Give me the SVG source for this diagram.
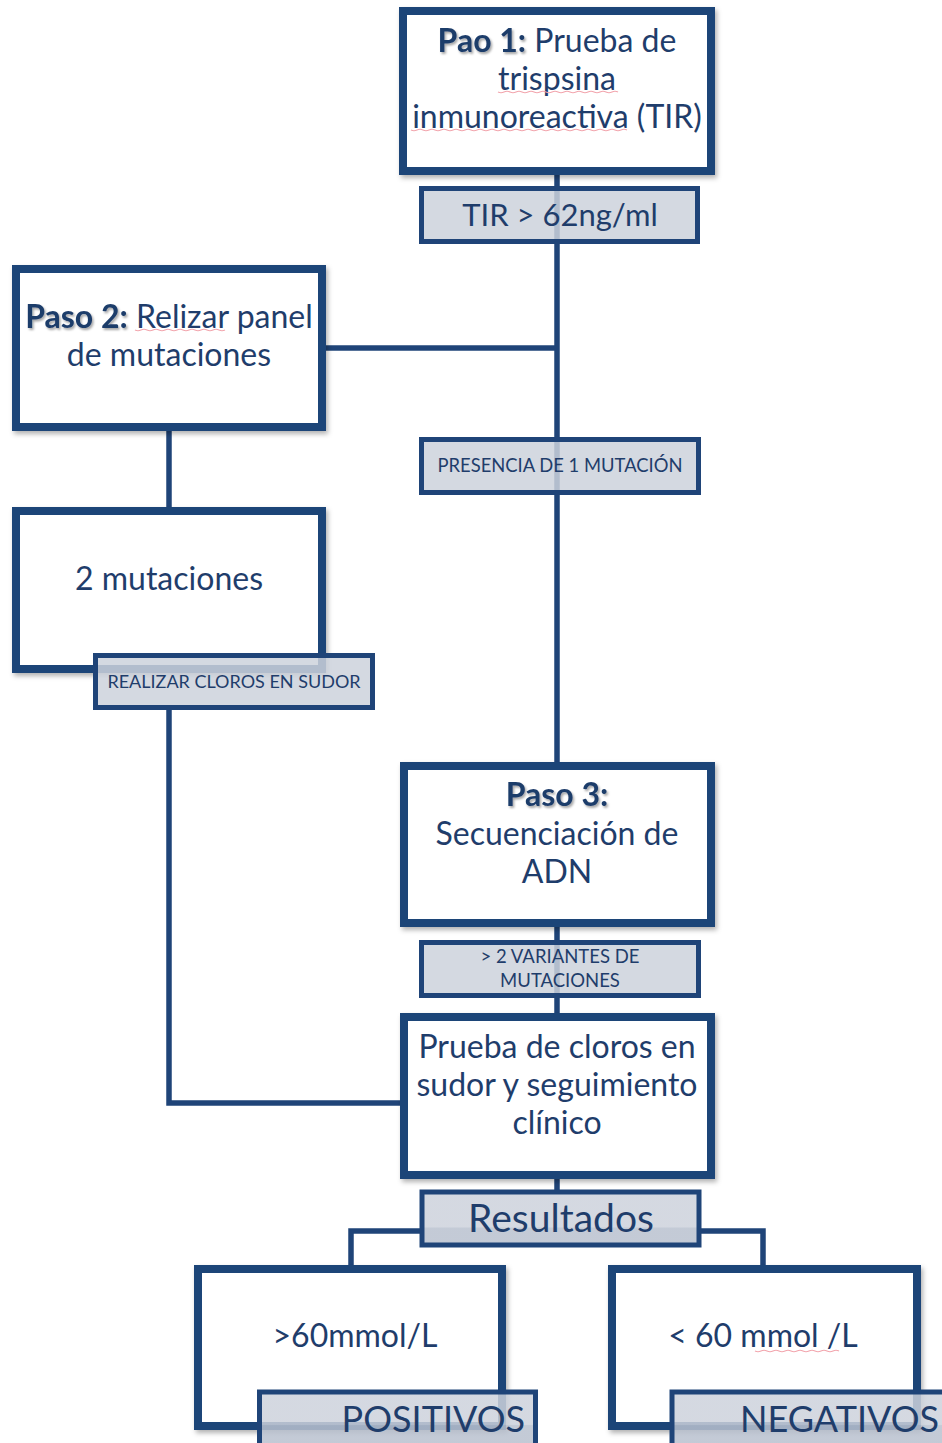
<svg xmlns="http://www.w3.org/2000/svg" width="942" height="1443" viewBox="0 0 942 1443">
<style>
.box{fill:#fff;stroke:#1f4478;stroke-width:8;filter:url(#sh)}
.lbl{fill:#cdd2dc;fill-opacity:0.85;stroke:#1f4478;stroke-width:5}
.lblA{fill:url(#lgA);fill-opacity:0.85;stroke:#1f4478;stroke-width:5}
.lblB{fill:url(#lgB);fill-opacity:0.85;stroke:#1f4478;stroke-width:5}
.ln{fill:none;stroke:#1f4478;stroke-width:5.5}
text{font-family:Lato,"Open Sans","Liberation Sans",sans-serif;fill:#1f3d6b;text-anchor:middle}
.t32{font-size:32px}
.t31{font-size:31px}
.t18{font-size:18px}
.t185{font-size:18.5px}
.t39{font-size:39px}
.t36{font-size:36px}
.b{font-weight:bold;filter:url(#ts)}
.sq{fill:none;stroke:#f2a6ae;stroke-width:1.2}
</style>
<defs>
<filter id="sh" x="-10%" y="-10%" width="125%" height="125%"><feDropShadow dx="2" dy="3" stdDeviation="2.5" flood-color="#000" flood-opacity="0.3"/></filter>
<filter id="ts" x="-10%" y="-20%" width="125%" height="150%"><feDropShadow dx="1.5" dy="2" stdDeviation="1" flood-color="#000" flood-opacity="0.35"/></filter>
<linearGradient id="lgA" x1="0" y1="0" x2="0" y2="1"><stop offset="0" stop-color="#cdd2dc"/><stop offset="0.66" stop-color="#cdd2dc"/><stop offset="0.68" stop-color="#b9c1cf"/><stop offset="1" stop-color="#b9c1cf"/></linearGradient>
<linearGradient id="lgB" x1="0" y1="0" x2="0" y2="1"><stop offset="0" stop-color="#cdd2dc"/><stop offset="0.54" stop-color="#cdd2dc"/><stop offset="0.56" stop-color="#b9c1cf"/><stop offset="1" stop-color="#b9c1cf"/></linearGradient>
</defs>
<g id="connectors">
<line class="ln" x1="557" y1="171" x2="557" y2="766"/>
<line class="ln" x1="322" y1="348" x2="557" y2="348"/>
<line class="ln" x1="169" y1="427" x2="169" y2="511"/>
<polyline class="ln" points="169,708 169,1103 404,1103"/>
<line class="ln" x1="557" y1="923" x2="557" y2="1017"/>
<line class="ln" x1="557" y1="1175" x2="557" y2="1192"/>
<polyline class="ln" points="422,1231 351,1231 351,1269"/>
<polyline class="ln" points="699,1231 763,1231 763,1269"/>
</g>
<g id="n1">
<rect class="box" x="403" y="11" width="308" height="160"/>
<text class="t32" x="557" y="52"><tspan class="b">Pao 1:</tspan> Prueba de</text>
<text class="t32" x="557" y="90">trispsina</text>
<text class="t32" x="557" y="128">inmunoreactiva (TIR)</text>
<path class="sq" d="M498 92 q3 1.5 6 0 t6 0 t6 0 t6 0 t6 0 t6 0 t6 0 t6 0 t6 0 t6 0 t6 0 t6 0 t6 0 t6 0 t6 0 t6 0 t6 0 t6 0 t6 0 t6 0"/>
<path class="sq" d="M411 130 q3 1.5 6 0 t6 0 t6 0 t6 0 t6 0 t6 0 t6 0 t6 0 t6 0 t6 0 t6 0 t6 0 t6 0 t6 0 t6 0 t6 0 t6 0 t6 0 t6 0 t6 0 t6 0 t6 0 t6 0 t6 0 t6 0 t6 0 t6 0 t6 0 t6 0 t6 0 t6 0 t6 0 t6 0 t6 0 t6 0 t6 0"/>
</g>
<g id="l1">
<rect class="lbl" x="421.5" y="188.5" width="276" height="53"/>
<text class="t31" x="560" y="226">TIR &gt; 62ng/ml</text>
</g>
<g id="n2">
<rect class="box" x="16" y="269" width="306" height="158"/>
<text class="t32" x="169" y="328"><tspan class="b">Paso 2:</tspan> Relizar panel</text>
<text class="t32" x="169" y="366">de mutaciones</text>
<path class="sq" d="M135 330 q3 1.5 6 0 t6 0 t6 0 t6 0 t6 0 t6 0 t6 0 t6 0 t6 0 t6 0 t6 0 t6 0 t6 0 t6 0 t6 0"/>
</g>
<g id="l2">
<rect class="lbl" x="421.5" y="439.5" width="277" height="53"/>
<text class="t18" x="560" y="472" style="font-size:18.4px">PRESENCIA DE 1 MUTACIÓN</text>
</g>
<g id="n3">
<rect class="box" x="16" y="511" width="306" height="158"/>
<text class="t32" x="169" y="590">2 mutaciones</text>
</g>
<g id="l3">
<rect class="lbl" x="95.5" y="655.5" width="277" height="52"/>
<text class="t18" x="234" y="688">REALIZAR CLOROS EN SUDOR</text>
</g>
<g id="n4">
<rect class="box" x="404" y="766" width="307" height="157"/>
<text class="t32 b" x="557" y="806">Paso 3:</text>
<text class="t32" x="557" y="845">Secuenciación de</text>
<text class="t32" x="557" y="883">ADN</text>
</g>
<g id="l4">
<rect class="lbl" x="421.5" y="942.5" width="277" height="53"/>
<text class="t185" x="560" y="963">&gt; 2 VARIANTES DE</text>
<text class="t185" x="560" y="987">MUTACIONES</text>
</g>
<g id="n5">
<rect class="box" x="404" y="1017" width="307" height="158"/>
<text class="t32" x="557" y="1058">Prueba de cloros en</text>
<text class="t32" x="557" y="1096">sudor y seguimiento</text>
<text class="t32" x="557" y="1134">clínico</text>
</g>
<g id="l5">
<rect class="lblA" x="422" y="1192" width="277" height="53"/>
<text class="t39" x="561" y="1232">Resultados</text>
</g>
<g id="n6">
<rect class="box" x="198" y="1269" width="304" height="157"/>
<text class="t32" x="355" y="1347">&gt;60mmol/L</text>
</g>
<g id="l6">
<rect class="lblB" x="259.5" y="1392" width="276" height="60"/>
<text class="t36" x="525" y="1432" style="text-anchor:end">POSITIVOS</text>
</g>
<g id="n7">
<rect class="box" x="612" y="1269" width="305" height="157"/>
<text class="t32" x="763" y="1347">&lt; 60 mmol /L</text>
<path class="sq" d="M755 1351 q3 1.5 6 0 t6 0 t6 0 t6 0 t6 0 t6 0 t6 0 t6 0 t6 0 t6 0 t6 0 t6 0 t6 0 t6 0"/>
</g>
<g id="l7">
<rect class="lblB" x="672" y="1392" width="290" height="60"/>
<text class="t36" x="939" y="1432" style="text-anchor:end">NEGATIVOS</text>
</g>
</svg>
